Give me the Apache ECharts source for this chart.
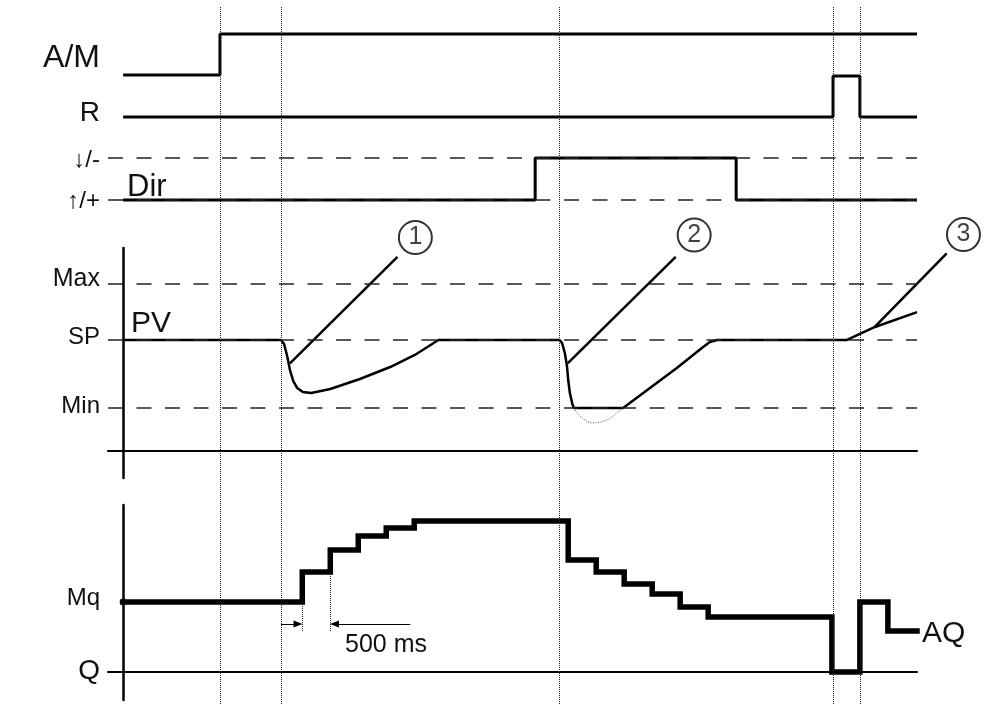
<!DOCTYPE html>
<html>
<head>
<meta charset="utf-8">
<title>PI controller timing</title>
<script src="https://cdn.jsdelivr.net/npm/echarts@6.0.0/dist/echarts.min.js"></script>
<style>
  html, body { margin: 0; padding: 0; background: #fff; }
  #main { width: 1003px; height: 704px; }
</style>
</head>
<body>
<div id="main"></div>
<script>
// time axis in seconds, one AQ step = 500 ms
const tMin = -0.27
const tMax = 14.18
const eventTimes = [1.73, 2.82, 7.79, 12.68, 13.16]

// digital inputs (0 = low, 1 = high)
const amTimes = [0, 1.73, 14.18]
const amLevels = [0, 1, 1]
const rTimes = [0, 12.68, 13.16, 14.18]
const rLevels = [0, 1, 0, 0]
const dirTimes = [0, 7.36, 10.95, 14.18]
const dirLevels = [0, 1, 0, 0]

// PV limits and curve
const pvMax = 100
const pvSP = 66.5
const pvMin = 25.7
const pvTimes = [0, 2.82, 2.875, 2.93, 2.98, 3.04, 3.11, 3.21, 3.36, 3.7, 4.23, 4.77, 5.21, 5.52, 5.63,
  7.79, 7.84, 7.89, 7.93, 7.95, 7.98, 8.02, 8.05, 8.93, 9.41, 9.89, 10.36, 10.48, 10.61, 12.93, 13.16, 13.43, 14.18]
const pvValues = [66.5, 66.5, 64.1, 56.9, 48.5, 41.9, 37.7, 35.3, 34.7, 37.1, 43.1, 50.3, 57.5, 64.1, 66.5,
  66.5, 64.7, 58.7, 50.3, 42.5, 34.7, 28.7, 25.7, 25.7, 37.7, 49.7, 62.3, 65.3, 66.5, 66.5, 70.1, 74.3, 83.2]
// PV without the Min limit (dotted)
const pvFreeTimes = [8.05, 8.2, 8.39, 8.64, 8.82, 8.93]
const pvFreeValues = [25.7, 19.8, 16.8, 18.6, 22.8, 25.7]

// numbered callouts (same PV units)
const calloutText = ['1', '2', '3']
const calloutT = [5.22, 10.2, 15.01]
const calloutV = [127.8, 129.3, 129.6]
const leaderFrom = [[4.9, 116.3], [9.87, 116.3], [14.71, 118.4]]
const leaderTo = [[2.98, 52.5], [7.94, 52.5], [13.43, 74.4]]

// AQ output
const aqMq = 50
const aqTimes = [0, 3.2, 3.7, 4.2, 4.7, 5.2, 7.95, 8.45, 8.95, 9.45, 9.95, 10.45, 12.66, 13.16, 13.66, 14.18]
const aqValues = [50, 71.4, 87.1, 97.1, 102.9, 107.9, 80, 71.4, 62.9, 55.7, 46.4, 39.3, 0, 50, 29.3, 29.3]
const stepTimes = [3.2, 3.7]

const zip = (a, b) => a.map((v, i) => [v, b[i]])
const font = '"Liberation Sans", Arial, sans-serif'
const dash = [15, 13.5]
const arrowPad = 0.075

var myChart = echarts.init(document.getElementById('main'))

// grids: overlay, A/M, R, Dir, PV, AQ, callouts
const gridTops = [6, 34, 76, 158, 248, 505, 200]
const gridHeights = [698, 41, 41, 42, 230, 195, 278]
const gridWidths = [809, 809, 809, 809, 809, 809, 895]
const calloutTMax = tMin + 895 * (tMax - tMin) / 809

function xAx(i, show, max) {
  return {
    type: 'value', gridIndex: i, min: tMin, max: max || tMax, show: show,
    axisLine: { show: true, onZero: true, lineStyle: { color: '#000', width: 2 } },
    axisTick: { show: false }, axisLabel: { show: false }, splitLine: { show: false }
  }
}
function yAx(i, min, max, show) {
  return {
    type: 'value', gridIndex: i, min: min, max: max, show: show,
    axisLine: { show: true, onZero: true, lineStyle: { color: '#000', width: 2.5 } },
    axisTick: { show: false }, axisLabel: { show: false }, splitLine: { show: false }
  }
}

function levelLines(values) {
  return {
    silent: true, symbol: ['none', 'none'], label: { show: false },
    lineStyle: { type: dash, color: '#222', width: 1.5 },
    data: values.map(v => ({ yAxis: v }))
  }
}

function digital(i, times, levels) {
  return {
    type: 'line', xAxisIndex: i, yAxisIndex: i, step: 'end', clip: false,
    symbol: 'none', lineStyle: { color: '#000', width: 3 },
    data: zip(times, levels)
  }
}

function label(text, x, y, size, align) {
  return {
    type: 'text', x: x, y: y, silent: true,
    style: { text: text, font: size + 'px ' + font, fill: '#111', align: align, verticalAlign: 'middle' }
  }
}

let series = [
  {
    type: 'line', xAxisIndex: 0, yAxisIndex: 0, data: [],
    markLine: {
      silent: true, symbol: ['none', 'none'], label: { show: false },
      lineStyle: { type: [1, 1], color: '#222', width: 1 },
      data: eventTimes.map(t => ({ xAxis: t }))
    }
  },
  digital(1, amTimes, amLevels),
  digital(2, rTimes, rLevels),
  Object.assign(digital(3, dirTimes, dirLevels), { markLine: levelLines([0, 1]) }),
  {
    type: 'line', xAxisIndex: 4, yAxisIndex: 4, clip: false, symbol: 'none',
    lineStyle: { color: '#000', width: 2.5 },
    data: zip(pvTimes, pvValues),
    markLine: levelLines([pvMax, pvSP, pvMin])
  },
  {
    type: 'line', xAxisIndex: 4, yAxisIndex: 4, clip: false, symbol: 'none', smooth: 0.4,
    lineStyle: { color: '#555', width: 1, type: [1, 1.5] },
    data: zip(pvFreeTimes, pvFreeValues)
  }
]

leaderFrom.forEach((p, i) => {
  series.push({
    type: 'line', xAxisIndex: 6, yAxisIndex: 6, clip: false, symbol: 'none',
    lineStyle: { color: '#000', width: 2.5 },
    data: [p, leaderTo[i]]
  })
})

series.push({
  type: 'scatter', xAxisIndex: 6, yAxisIndex: 6, clip: false, silent: true,
  symbol: 'circle', symbolSize: 33,
  itemStyle: { color: '#fff', borderColor: '#000', borderWidth: 2 },
  label: {
    show: true, position: 'inside', color: '#111', fontSize: 25, fontFamily: font,
    formatter: p => calloutText[p.dataIndex]
  },
  data: zip(calloutT, calloutV)
})

const annoV = 34.3
const tickBottom = 28.6
series.push({
  type: 'line', xAxisIndex: 5, yAxisIndex: 5, clip: false, symbol: 'none',
  lineStyle: { color: '#000', width: 5.5, join: 'miter', cap: 'square' },
  data: zip(aqTimes, aqValues),
  step: 'end',
  markLine: {
    silent: true, symbol: ['none', 'none'], label: { show: false },
    data: [
      [{ yAxis: aqMq, lineStyle: { type: dash, color: '#222', width: 1.5 } }, { yAxis: aqMq }],
      [{ coord: [eventTimes[1], annoV], symbol: 'none', lineStyle: { type: 'solid', color: '#000', width: 1 } },
        { coord: [stepTimes[0] - arrowPad, annoV], symbol: 'triangle', symbolSize: [7, 9] }],
      [{ coord: [5.13, annoV], symbol: 'none', lineStyle: { type: 'solid', color: '#000', width: 1 } },
        { coord: [stepTimes[1] + arrowPad, annoV], symbol: 'triangle', symbolSize: [7, 9] }],
      [{ coord: [stepTimes[0], aqMq], lineStyle: { type: [1, 1], color: '#222', width: 1 } },
        { coord: [stepTimes[0], tickBottom] }],
      [{ coord: [stepTimes[1], aqValues[1]], lineStyle: { type: [1, 1], color: '#222', width: 1 } },
        { coord: [stepTimes[1], tickBottom] }]
    ]
  }
})

series.push({
  type: 'scatter', xAxisIndex: 5, yAxisIndex: 5, clip: false, silent: true,
  symbol: 'circle', symbolSize: 7, itemStyle: { color: '#000' },
  data: [[0, aqMq]]
})

var option = {
  animation: false,
  backgroundColor: '#fff',
  grid: gridTops.map((t, i) => ({ left: 108, width: gridWidths[i], top: t, height: gridHeights[i], outerBoundsMode: 'none' })),
  xAxis: [xAx(0, false), xAx(1, false), xAx(2, false), xAx(3, false), xAx(4, true), xAx(5, true),
    xAx(6, false, calloutTMax)],
  yAxis: [yAx(0, 0, 1, false), yAx(1, 0, 1, false), yAx(2, 0, 1, false), yAx(3, 0, 1, false),
    yAx(4, -16.2, 121.6, true), yAx(5, -20, 119.3, true), yAx(6, -16.2, 150.3, false)],
  series: series,
  graphic: [
    label('A/M', 100, 58, 32, 'right'),
    label('R', 100, 113, 28, 'right'),
    label('↓/-', 100, 160, 24, 'right'),
    label('↑/+', 100, 201, 24, 'right'),
    label('Dir', 127, 187, 31, 'left'),
    label('Max', 100, 279, 25, 'right'),
    label('SP', 100, 337, 24, 'right'),
    label('Min', 100, 406, 24, 'right'),
    label('PV', 131, 324, 30, 'left'),
    label('Mq', 100, 598, 24, 'right'),
    label('Q', 100, 671, 28, 'right'),
    label('500 ms', 345, 645, 25, 'left'),
    label('AQ', 922, 634, 30, 'left')
  ]
}

myChart.setOption(option)
</script>
</body>
</html>
